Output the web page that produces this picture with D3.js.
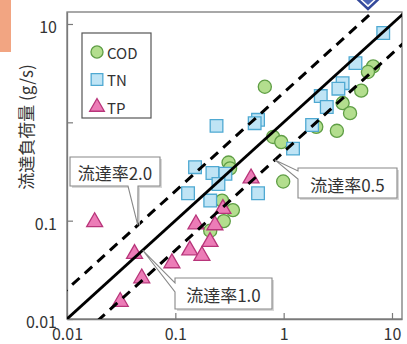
<!DOCTYPE html>
<html><head><meta charset="utf-8">
<script src="https://cdn.jsdelivr.net/npm/d3@7/dist/d3.min.js"></script>
<style>body{margin:0;background:#fff;} svg{display:block;}</style>
</head><body>
<svg id="chart" width="407" height="344"></svg>
<script>
// ---- data (x: inflow load, y: outflow load, g/s) ----
const codX = [0.67, 6.7, 6.0, 5.2, 3.5, 4.1, 3.1, 2.0, 0.80, 0.95, 0.99, 0.31, 0.32, 0.27, 0.34, 0.28, 0.21];
const codY = [2.3, 3.7, 3.25, 2.1, 1.57, 1.24, 0.82, 0.90, 0.71, 0.63, 0.25, 0.39, 0.34, 0.16, 0.128, 0.099, 0.079];
const tnX = [8.3, 4.6, 3.5, 3.2, 2.2, 2.5, 1.83, 1.22, 0.58, 0.54, 0.24, 0.58, 0.152, 0.22, 0.29, 0.131, 0.21, 0.25];
const tnY = [8.1, 4.0, 2.5, 2.2, 1.85, 1.43, 0.94, 0.54, 1.06, 0.98, 0.92, 0.19, 0.35, 0.305, 0.30, 0.19, 0.16, 0.236];
const tpX = [0.018, 0.042, 0.049, 0.031, 0.093, 0.136, 0.176, 0.209, 0.155, 0.232, 0.275, 0.50];
const tpY = [0.097, 0.046, 0.026, 0.015, 0.037, 0.050, 0.044, 0.061, 0.092, 0.090, 0.132, 0.27];
const seriesNames = ["COD", "TN", "TP"];
const ratios = [2.0, 1.0, 0.5];
const ratioLabels = ["流達率2.0", "流達率1.0", "流達率0.5"];
const ratioTipX = [0.045, 0.050, 0.83];
const xTickValues = [0.01, 0.1, 1, 10];
const xTickLabels = ["0.01", "0.1", "1", "10"];
const yTickValues = [0.01, 0.1, 1, 10];
const yTickLabels = ["0.01", "0.1", "", "10"];
const yTitle = "流達負荷量 (g/s)";

const FONT = '"Noto Sans CJK JP", "Noto Sans", sans-serif';
const svg = d3.select("#chart");
const L = 67, R = 402, T = 12, B = 319;
const x = d3.scaleLog().domain([0.01, 12.37]).range([L, R]);
const y = d3.scaleLog().domain([0.01, 13.24]).range([B, T]);

// decorations
svg.append("rect").attr("x", 0).attr("y", 0).attr("width", 11).attr("height", 52).attr("fill", "#f2a582");

// clip
svg.append("clipPath").attr("id", "clip").append("rect")
  .attr("x", L).attr("y", T).attr("width", R - L).attr("height", B - T);

// frame
svg.append("rect").attr("x", L).attr("y", T).attr("width", R - L).attr("height", B - T)
  .attr("fill", "none").attr("stroke", "#7a7a7a").attr("stroke-width", 1.3);

// axes
const xAxis = d3.axisBottom(x).tickValues(xTickValues).tickFormat((d, i) => xTickLabels[i])
  .tickSizeInner(-6).tickSizeOuter(0).tickPadding(9);
const gx = svg.append("g").attr("transform", `translate(0,${B})`).call(xAxis);
const yAxis = d3.axisLeft(y).tickValues(yTickValues).tickFormat((d, i) => yTickLabels[i])
  .tickSizeInner(-6).tickSizeOuter(0).tickPadding(10);
const gy = svg.append("g").attr("transform", `translate(${L},0)`).call(yAxis);
[gx, gy].forEach(g => {
  g.select(".domain").attr("stroke", "#7a7a7a").attr("stroke-width", 1.3);
  g.selectAll(".tick line").attr("stroke", "#7a7a7a").attr("stroke-width", 1.2);
  g.selectAll(".tick text").attr("font-family", FONT).attr("font-size", 16).attr("fill", "#333");
});
gx.selectAll(".tick text").attr("dy", "0.78em");
gy.selectAll(".tick text").attr("dy", "0.55em");

// y title
svg.append("text").attr("transform", "translate(25,127) rotate(-90)")
  .attr("text-anchor", "middle").attr("dominant-baseline", "central")
  .attr("font-family", FONT).attr("font-size", 17).attr("fill", "#333").text(yTitle);

// markers
const styles = {
  COD: {sym: d3.symbolCircle, size: 135, fill: "#b3de8e", stroke: "#5f9e45"},
  TN: {sym: d3.symbolSquare, size: 160, fill: "#bfe4f5", stroke: "#4fa9d2"},
  TP: {sym: d3.symbolTriangle, size: 110, fill: "#ec7cb7", stroke: "#b8357a"}
};
const seriesData = [
  {name: "COD", xs: codX, ys: codY},
  {name: "TN", xs: tnX, ys: tnY},
  {name: "TP", xs: tpX, ys: tpY}
];
const gm = svg.append("g").attr("clip-path", "url(#clip)");
seriesData.forEach(s => {
  const st = styles[s.name];
  gm.selectAll(null).data(s.xs.map((v, i) => [v, s.ys[i]])).enter().append("path")
    .attr("d", d3.symbol().type(st.sym).size(st.size))
    .attr("transform", d => `translate(${x(d[0])},${y(d[1])})`)
    .attr("fill", st.fill).attr("stroke", st.stroke).attr("stroke-width", 1.3);
});

// ratio lines
const gl = svg.append("g").attr("clip-path", "url(#clip)");
ratios.forEach(r => {
  const x0 = 0.005, x1 = 20;
  gl.append("line").attr("x1", x(x0)).attr("y1", y(r * x0)).attr("x2", x(x1)).attr("y2", y(r * x1))
    .attr("stroke", "#000").attr("stroke-width", r === 1 ? 2.8 : 3)
    .attr("stroke-dasharray", r === 1 ? null : "10,7");
});

// legend
svg.append("rect").attr("x", 82).attr("y", 33).attr("width", 69).attr("height", 85)
  .attr("fill", "#fff").attr("stroke", "#555").attr("stroke-width", 1.2);
seriesNames.forEach((n, i) => {
  const st = styles[n];
  const cy = 52 + i * 27.5;
  svg.append("path").attr("d", d3.symbol().type(st.sym).size(st.size * 0.85))
    .attr("transform", `translate(97,${cy})`).attr("fill", st.fill).attr("stroke", st.stroke).attr("stroke-width", 1.3);
  svg.append("text").attr("x", 107).attr("y", cy).attr("dominant-baseline", "central")
    .attr("font-family", FONT).attr("font-size", 15).attr("fill", "#333").text(n);
});

// callouts
const boxes = [
  {x0: 70, y0: 157, x1: 160, y1: 186, side: "bottom", b0: 128, b1: 138},
  {x0: 175, y0: 278, x1: 272, y1: 309, side: "left", b0: 283, b1: 292},
  {x0: 298, y0: 168, x1: 397, y1: 198, side: "left", b0: 171, b1: 179}
];
boxes.forEach((b, i) => {
  const tx = x(ratioTipX[i]), ty = y(ratios[i] * ratioTipX[i]);
  let p;
  if (b.side === "bottom") {
    p = `M${b.x0},${b.y0}H${b.x1}V${b.y1}H${b.b1}L${tx},${ty}L${b.b0},${b.y1}H${b.x0}Z`;
  } else {
    p = `M${b.x0},${b.y0}H${b.x1}V${b.y1}H${b.x0}V${b.b1}L${tx},${ty}L${b.x0},${b.b0}Z`;
  }
  svg.append("path").attr("d", p).attr("transform", "translate(2,2)").attr("fill", "#d8d8d8");
  svg.append("path").attr("d", p).attr("fill", "#fff").attr("stroke", "#888").attr("stroke-width", 1.1);
  svg.append("text").attr("x", (b.x0 + b.x1) / 2).attr("y", (b.y0 + b.y1) / 2 + 1)
    .attr("text-anchor", "middle").attr("dominant-baseline", "central")
    .attr("font-family", FONT).attr("font-size", 17).attr("fill", "#333").text(ratioLabels[i]);
});

// logo fragment at top
svg.append("path").attr("d", "M350,-8L368,9L386,-8").attr("fill", "#fff").attr("stroke", "#34499b").attr("stroke-width", 2.5);
svg.append("path").attr("d", "M358,-4L368,5L378,-4Z").attr("fill", "#4a63b5");
</script>
</body></html>
